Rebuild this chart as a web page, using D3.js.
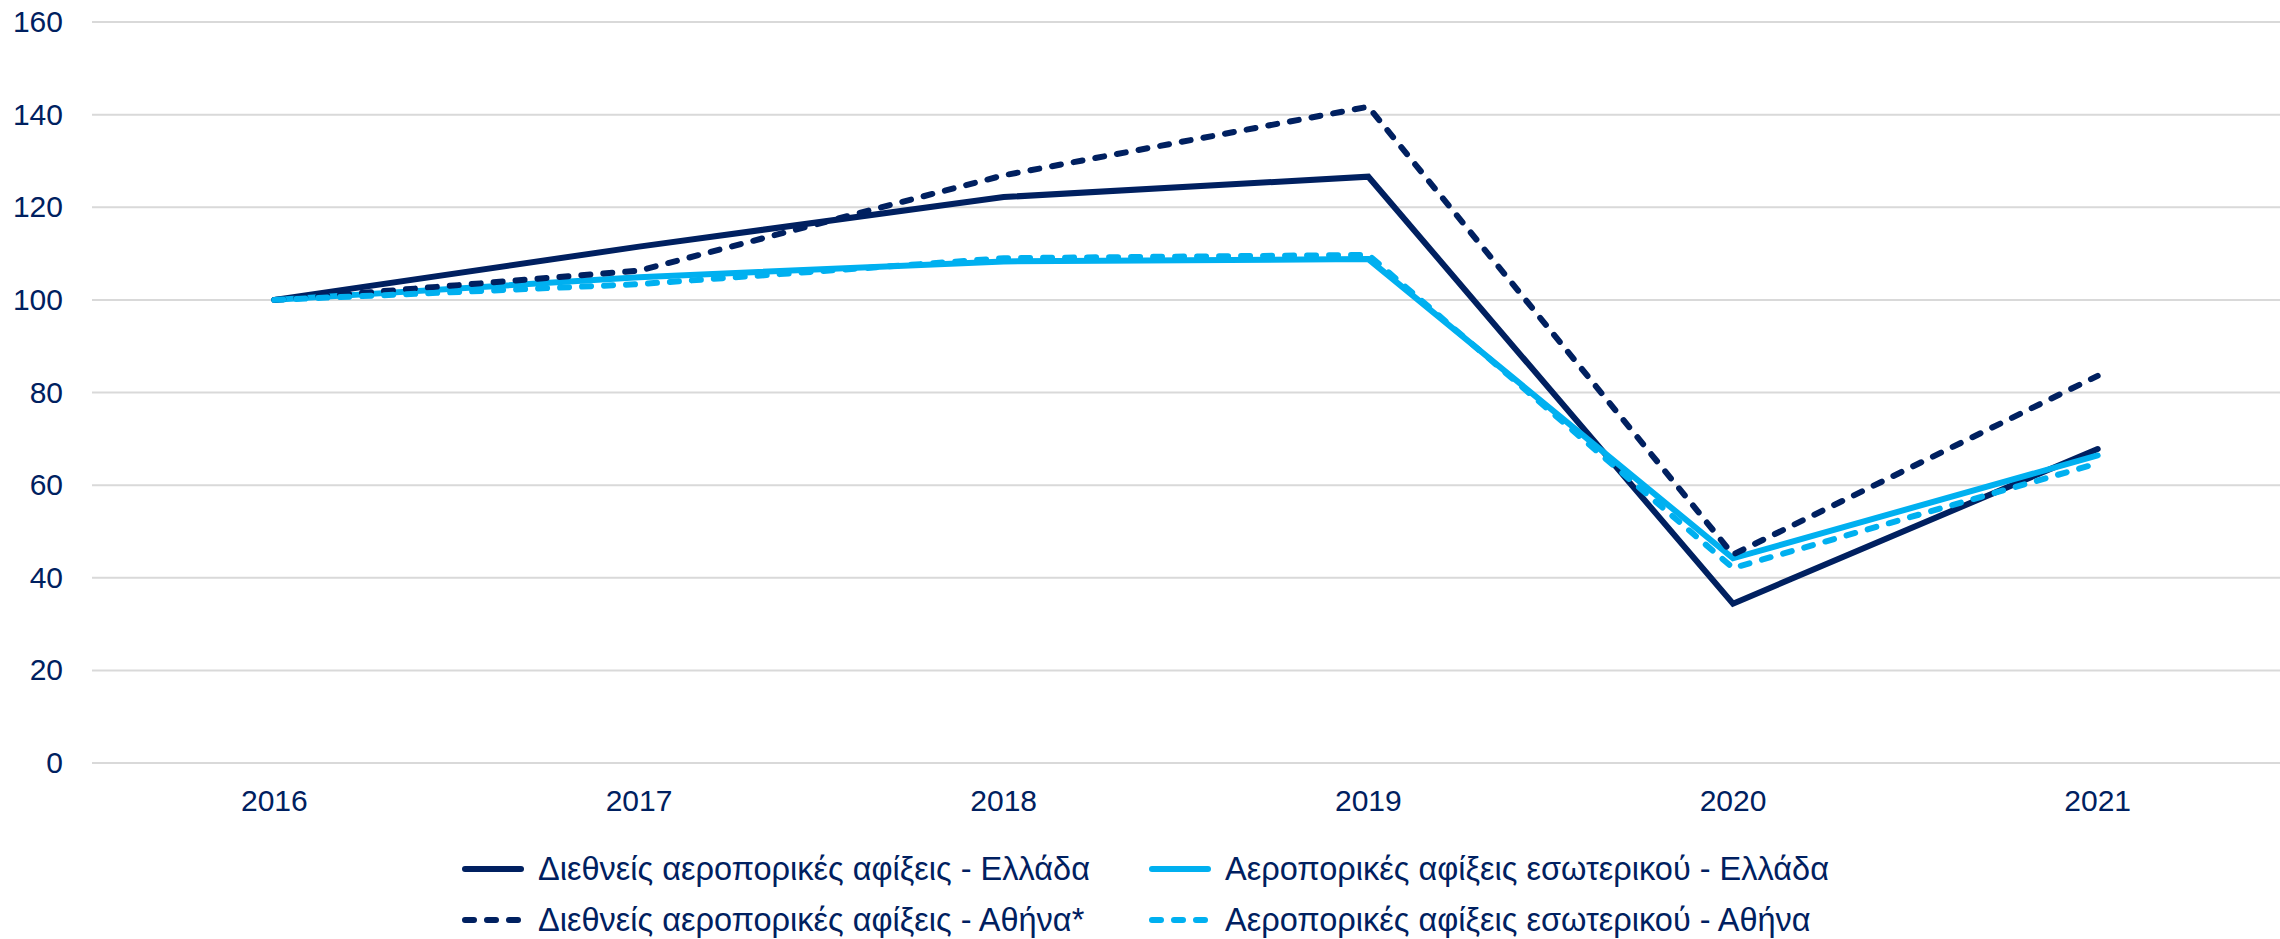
<!DOCTYPE html>
<html>
<head>
<meta charset="utf-8">
<script src="https://cdn.jsdelivr.net/npm/d3@7"></script>
<style>
  body { margin: 0; background: #fff; }
  text { font-family: "Liberation Sans", Arial, sans-serif; fill: #002060; }
</style>
</head>
<body>
<svg id="chart"></svg>
<script>
// years on the x axis
const years = ["2016", "2017", "2018", "2019", "2020", "2021"];
const yTicks = [0, 20, 40, 60, 80, 100, 120, 140, 160];

// index values, 2016 = 100
const intlGreece  = [100, 111.5, 122.2, 126.6, 34.4, 67.8];
const domGreece   = [100, 104.9, 108.3, 108.8, 44.2, 66.4];
const intlAthens  = [100, 106.3, 126.9, 141.7, 45.0, 83.6];
const domAthens   = [100, 103.4, 109.0, 109.7, 42.1, 64.7];

const seriesNames = [
  "Διεθνείς αεροπορικές αφίξεις - Ελλάδα",
  "Αεροπορικές αφίξεις εσωτερικού - Ελλάδα",
  "Διεθνείς αεροπορικές αφίξεις - Αθήνα*",
  "Αεροπορικές αφίξεις εσωτερικού - Αθήνα"
];

const dark = "#002060", light = "#00B0F0";
const series = [
  {name: seriesNames[0], values: intlGreece, color: dark,  dashed: false},
  {name: seriesNames[1], values: domGreece,  color: light, dashed: false},
  {name: seriesNames[2], values: intlAthens, color: dark,  dashed: true},
  {name: seriesNames[3], values: domAthens,  color: light, dashed: true}
];

const W = 2280, H = 939;
const margin = {top: 22, right: 0, bottom: 176, left: 92};
const width = W - margin.left - margin.right,
      height = H - margin.top - margin.bottom;

const svg = d3.select("#chart").attr("width", W).attr("height", H);
const g = svg.append("g").attr("transform", "translate(" + margin.left + "," + margin.top + ")");

const x = d3.scaleBand().domain(years).range([0, width]);
const y = d3.scaleLinear().domain([0, 160]).range([height, 0]);

// gridlines
g.selectAll(".grid")
  .data(yTicks)
  .enter()
  .append("line")
    .attr("x1", 0).attr("x2", width)
    .attr("y1", d => y(d)).attr("y2", d => y(d))
    .attr("stroke", "#d9d9d9")
    .attr("stroke-width", 2);

// y axis labels
const yAxis = g.append("g")
  .call(d3.axisLeft(y).tickValues(yTicks).tickSize(0).tickPadding(29));
yAxis.select(".domain").remove();
yAxis.selectAll("text").style("font-size", "30px").attr("fill", dark);

// x axis labels
const xAxis = g.append("g")
  .attr("transform", "translate(0," + height + ")")
  .call(d3.axisBottom(x).tickSize(0).tickPadding(27));
xAxis.select(".domain").remove();
xAxis.selectAll("text").style("font-size", "30px").attr("fill", dark);

const line = d3.line()
  .x((d, i) => x(years[i]) + x.bandwidth() / 2)
  .y(d => y(d));

g.selectAll(".series")
  .data(series)
  .enter()
  .append("path")
    .attr("d", d => line(d.values))
    .attr("fill", "none")
    .attr("stroke", d => d.color)
    .attr("stroke-width", 6)
    .attr("stroke-linecap", "round")
    .attr("stroke-linejoin", "miter")
    .attr("stroke-dasharray", d => d.dashed ? "9,13" : null);

// legend, 2 columns x 2 rows
const legendX = [462, 1149], legendY = [869, 920];
const legend = svg.selectAll(".legend")
  .data(series)
  .enter()
  .append("g")
    .attr("transform", (d, i) => "translate(" + legendX[i % 2] + "," + legendY[Math.floor(i / 2)] + ")");

legend.append("line")
  .attr("x1", 3).attr("x2", 59)
  .attr("y1", 0).attr("y2", 0)
  .attr("stroke", d => d.color)
  .attr("stroke-width", 6)
  .attr("stroke-linecap", "round")
  .attr("stroke-dasharray", d => d.dashed ? "9,13" : null);

legend.append("text")
  .attr("x", 76)
  .attr("dy", "0.35em")
  .style("font-size", "32.5px")
  .text(d => d.name);
</script>
</body>
</html>
